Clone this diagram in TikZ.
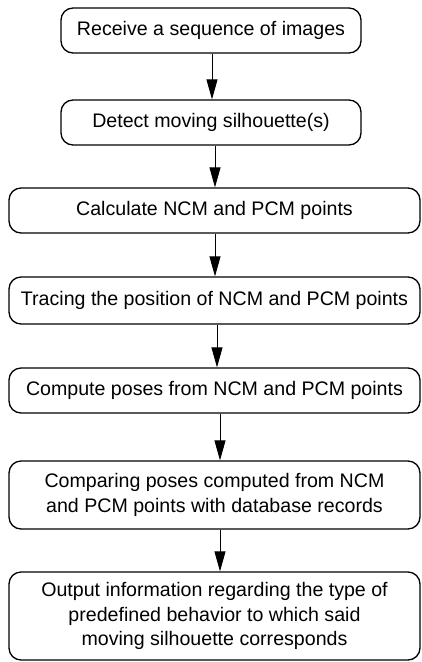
\documentclass[tikz,border=0pt]{standalone}
\usepackage{fontspec}
\setmainfont{Liberation Sans}
\usetikzlibrary{arrows.meta}
\begin{document}
\begin{tikzpicture}[x=1pt,y=-1pt,
  box/.style={draw, line width=1.3pt, rounded corners=12pt, inner sep=0pt, align=center,
    font=\fontsize{19.6}{24.5}\selectfont},
  arr/.style={line width=0.9pt, -{Triangle[length=20pt,width=11pt]}}]
\useasboundingbox (0,0) rectangle (421,662);
\node[box, minimum width=300pt, minimum height=45pt] (b1) at (211,30.5) {Receive a sequence of images};
\node[box, minimum width=300pt, minimum height=45pt] (b2) at (211,122.5) {Detect moving silhouette(s)};
\node[box, minimum width=411pt, minimum height=45pt] (b3) at (214.5,210.5) {Calculate NCM and PCM points};
\node[box, minimum width=411pt, minimum height=47pt] (b4) at (214.5,300.5) {Tracing the position of NCM and PCM points};
\node[box, minimum width=411pt, minimum height=45pt] (b5) at (214.5,390.5) {Compute poses from NCM and PCM points};
\node[box, minimum width=411pt, minimum height=68pt] (b6) at (214.5,495) {Comparing poses computed from NCM\\and PCM points with database records};
\node[box, minimum width=411pt, minimum height=88pt] (b7) at (214.5,616) {Output information regarding the type of\\predefined behavior to which said\\moving silhouette corresponds};
\draw[arr] ([xshift=1pt]b1.south) -- ([xshift=1pt]b1.south |- b2.north);
\draw[arr] ([xshift=4pt]b2.south) -- ([xshift=4pt]b2.south |- b3.north);
\draw[arr] ([xshift=0.5pt]b3.south) -- ([xshift=0.5pt]b3.south |- b4.north);
\draw[arr] ([xshift=2.5pt]b4.south) -- ([xshift=2.5pt]b4.south |- b5.north);
\draw[arr] ([xshift=5.5pt]b5.south) -- ([xshift=5.5pt]b5.south |- b6.north);
\draw[arr] ([xshift=5.5pt]b6.south) -- ([xshift=5.5pt]b6.south |- b7.north);
\end{tikzpicture}
\end{document}
